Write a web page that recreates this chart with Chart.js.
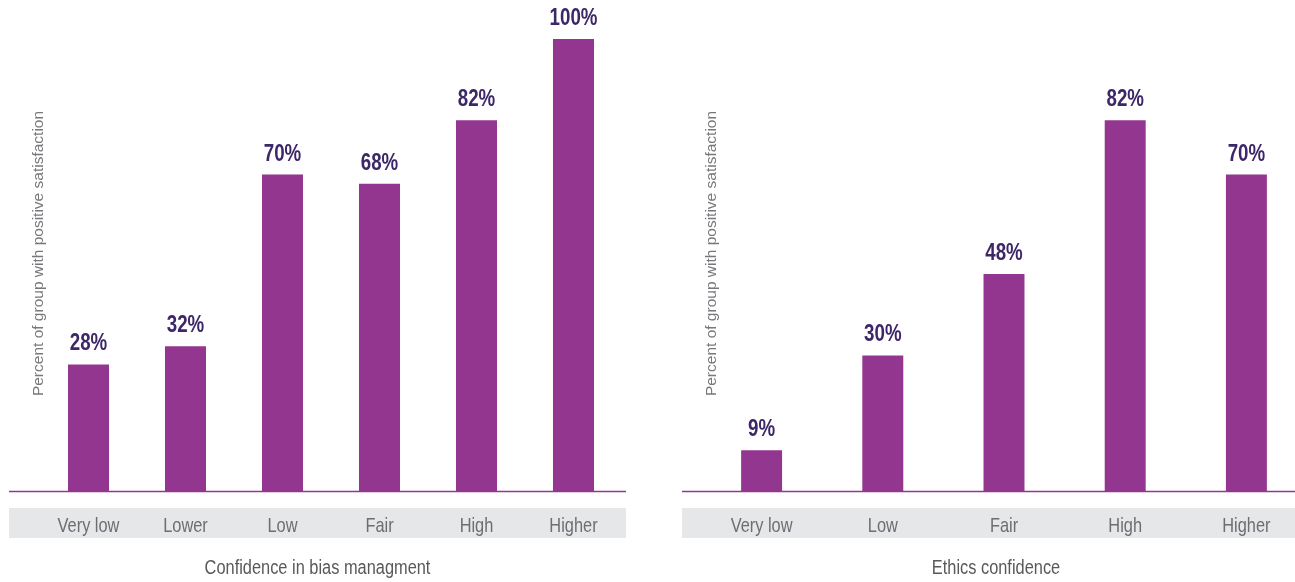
<!DOCTYPE html>
<html>
<head>
<meta charset="utf-8">
<script src="https://cdn.jsdelivr.net/npm/chart.js@4.4.1/dist/chart.umd.min.js"></script>
<style>
    html, body { margin: 0; padding: 0; background: #fff; overflow: hidden; width: 1295px; height: 582px; }
    .box { position: absolute; top: 0; height: 582px; }
    #left { left: 0; }
    #right { left: 650px; }
</style>
</head>
<body>
<div class="box" id="left"><canvas id="biasChart" width="640" height="582"></canvas></div>
<div class="box" id="right"><canvas id="ethicsChart" width="660" height="582"></canvas></div>
<script>
// Data
const biasCategories = ['Very low', 'Lower', 'Low', 'Fair', 'High', 'Higher'];
const biasValues = [28, 32, 70, 68, 82, 100];
const ethicsCategories = ['Very low', 'Low', 'Fair', 'High', 'Higher'];
const ethicsValues = [9, 30, 48, 82, 70];
const yAxisTitle = 'Percent of group with positive satisfaction';
const biasTitle = 'Confidence in bias managment';
const ethicsTitle = 'Ethics confidence';

// Colours
const purple = '#93368f';
const darkPurple = '#3d2769';
const grey = '#6d6e71';
const band = '#e6e7e8';
const family = '"Liberation Sans", Arial, sans-serif';

Chart.defaults.font.family = family;

// The original uses a condensed face, so text is squeezed horizontally
function drawText(ctx, text, x, y, font, sx, color) {
    ctx.save();
    ctx.font = font;
    ctx.fillStyle = color;
    ctx.textAlign = 'center';
    ctx.textBaseline = 'alphabetic';
    ctx.translate(x, y);
    ctx.scale(sx, 1);
    ctx.fillText(text, 0, 0);
    ctx.restore();
}

// Grey band with category labels, axis line, titles and value labels
const decor = {
    id: 'decor',
    beforeDraw(chart, args, opts) {
        const ctx = chart.ctx;
        ctx.save();
        ctx.fillStyle = band;
        ctx.fillRect(opts.bandLeft, 508, opts.bandRight - opts.bandLeft, 30);
        ctx.restore();

        // category labels, placed by the x scale
        const xScale = chart.scales.x;
        chart.data.labels.forEach(function (label, i) {
            drawText(ctx, label, xScale.getPixelForTick(i), 532, '21px ' + family, 0.78, grey);
        });
    },
    afterDatasetsDraw(chart, args, opts) {
        const ctx = chart.ctx;
        ctx.save();
        // axis line
        ctx.strokeStyle = purple;
        ctx.lineWidth = 1.5;
        ctx.beginPath();
        ctx.moveTo(opts.bandLeft, chart.chartArea.bottom + 0.5);
        ctx.lineTo(opts.bandRight, chart.chartArea.bottom + 0.5);
        ctx.stroke();
        ctx.restore();

        // value labels on top of each bar
        const meta = chart.getDatasetMeta(0);
        const values = chart.data.datasets[0].data;
        meta.data.forEach(function (bar, i) {
            drawText(ctx, values[i] + '%', bar.x, bar.y - 14, 'bold 24px ' + family, 0.78, darkPurple);
        });

        // x title under the band
        drawText(ctx, opts.title, (opts.bandLeft + opts.bandRight) / 2, 574, '19.5px ' + family, 0.84, '#58595b');

        // y title, rotated
        ctx.save();
        ctx.translate(opts.yTitleX, 253.5);
        ctx.rotate(-Math.PI / 2);
        drawText(ctx, yAxisTitle, 0, 0, '15.5px ' + family, 1, '#77787b');
        ctx.restore();
    }
};

function buildChart(id, categories, values, barPct, padLeft, padRight, decorOpts) {
    return new Chart(document.getElementById(id), {
        type: 'bar',
        data: {
            labels: categories,
            datasets: [{
                data: values,
                backgroundColor: purple,
                borderWidth: 0,
                categoryPercentage: 1,
                barPercentage: barPct
            }]
        },
        options: {
            responsive: false,
            animation: false,
            layout: { padding: { top: 39, left: padLeft, right: padRight, bottom: 0 } },
            plugins: {
                legend: { display: false },
                tooltip: { enabled: false },
                decor: decorOpts
            },
            scales: {
                y: { display: false, min: 0, max: 100 },
                x: {
                    grid: { display: false, drawTicks: false },
                    border: { display: false },
                    ticks: { display: false },
                    afterFit: function (scale) { scale.height = 91; }
                }
            }
        },
        plugins: [decor]
    });
}

buildChart('biasChart', biasCategories, biasValues, 0.423, 40, 18,
    { bandLeft: 9, bandRight: 626, title: biasTitle, yTitleX: 43 });
buildChart('ethicsChart', ethicsCategories, ethicsValues, 0.338, 51, 3,
    { bandLeft: 32, bandRight: 660, title: ethicsTitle, yTitleX: 66 });
</script>
</body>
</html>
